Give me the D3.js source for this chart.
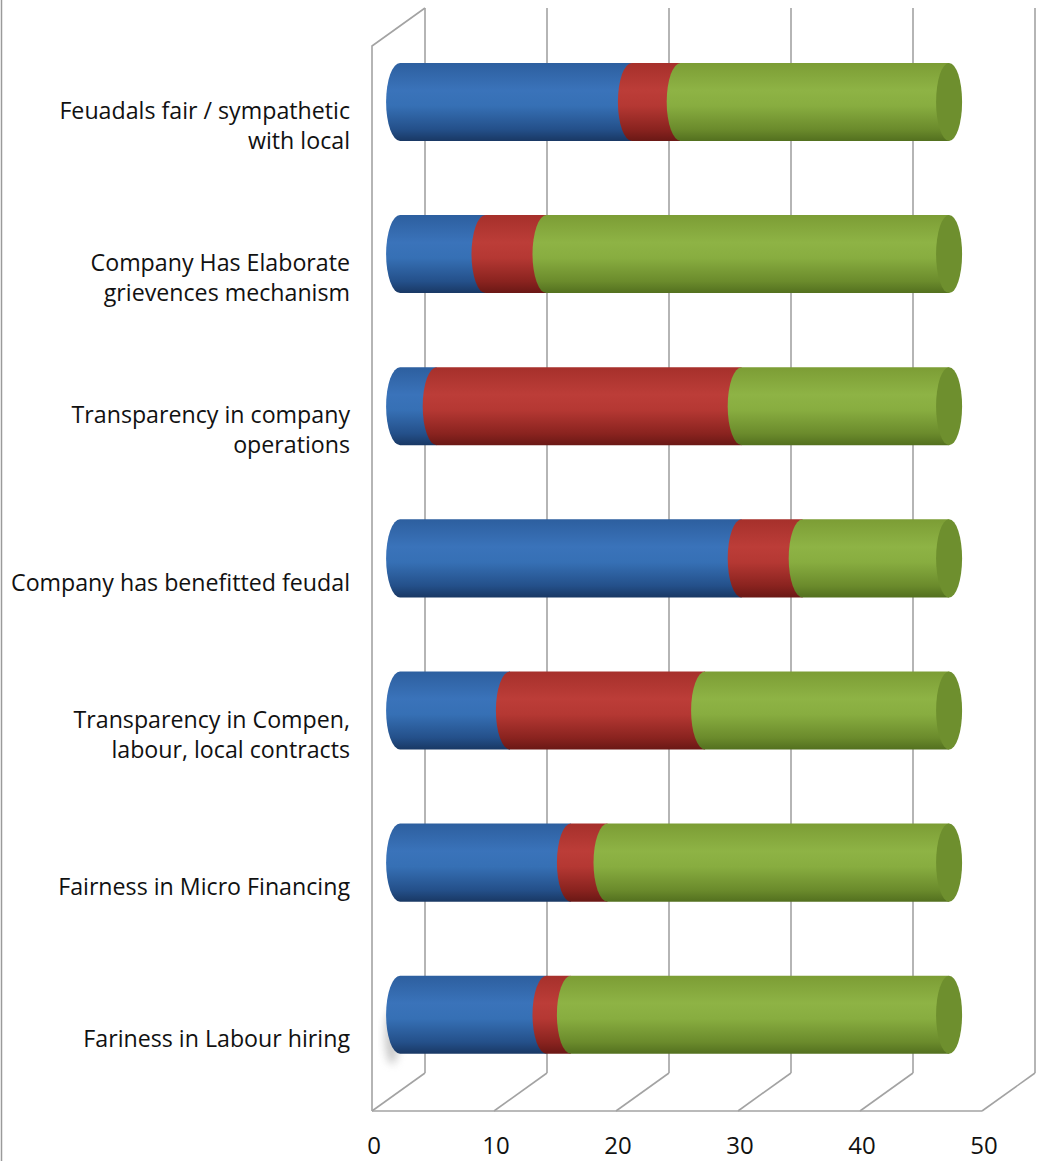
<!DOCTYPE html>
<html>
<head>
<meta charset="utf-8">
<script src="https://cdn.jsdelivr.net/npm/d3@7"></script>
<style>
  html, body { margin: 0; padding: 0; background: #fff; }
  svg { display: block; }
</style>
</head>
<body>
<svg id="chart" width="1062" height="1161"></svg>
<script>
// Categories, top to bottom, split into display lines
const categories = [
  "Feuadals fair / sympathetic with local",
  "Company Has Elaborate grievences mechanism",
  "Transparency in company operations",
  "Company has benefitted feudal",
  "Transparency in Compen, labour, local contracts",
  "Fairness in Micro Financing",
  "Fariness in Labour hiring"
];
const categoryLines = [
  ["Feuadals fair / sympathetic", "with local"],
  ["Company Has Elaborate", "grievences mechanism"],
  ["Transparency in company", "operations"],
  ["Company has benefitted feudal"],
  ["Transparency in Compen,", "labour, local contracts"],
  ["Fairness in Micro Financing"],
  ["Fariness in Labour hiring"]
];

// Stacked series (left to right within each bar)
const series1 = [19, 7, 3, 28, 9, 14, 12];
const series2 = [4, 5, 25, 5, 16, 3, 2];
const series3 = [22, 33, 17, 12, 20, 28, 31];

const tickValues = [0, 10, 20, 30, 40, 50];

const seriesList = [
  { key: "s1", values: series1, stops: ["#2d5f9f", "#3a73ba", "#3670b5", "#24508a", "#193864"] },
  { key: "s2", values: series2, stops: ["#a6302b", "#bc3d38", "#b53833", "#8a231f", "#6a1815"] },
  { key: "s3", values: series3, stops: ["#7c9d35", "#8eb345", "#88ad40", "#6b8b2c", "#53701f"] }
];
const capFill = "#6e8f2e";

const svg = d3.select("#chart");
const defs = svg.append("defs");

// 3D frame geometry: back wall and the offset of the front floor edge
const wallTop = 8, wallBottom = 1073;
const depthX = -53, depthY = 38;
const barDepth = 0.47;

const xBack = d3.scaleLinear().domain([0, 50]).range([425, 1035]);
const xFront = d3.scaleLinear().domain([0, 50]).range([425 + depthX, 1035 + depthX]);
const xBar = d3.scaleLinear().domain([0, 50]).range([425 + depthX * barDepth, 1035 + depthX * barDepth]);

const yBand = d3.scaleBand()
  .domain(categories)
  .range([wallTop, wallBottom])
  .paddingInner(0.487)
  .paddingOuter(0.2435);

const gridColor = "#a3a3a3";

// Outer frame edge on the left
svg.append("line")
  .attr("x1", 1.5).attr("x2", 1.5).attr("y1", 0).attr("y2", 1161)
  .attr("stroke", "#9a9a9a").attr("stroke-width", 1.5);

const grid = svg.append("g").attr("fill", "none").attr("stroke", gridColor).attr("stroke-width", 1.6);

// Back wall vertical gridlines
grid.selectAll("line.back")
  .data(tickValues)
  .join("line")
  .attr("class", "back")
  .attr("x1", d => xBack(d)).attr("x2", d => xBack(d))
  .attr("y1", wallTop).attr("y2", wallBottom);

// Floor gridlines running from back to front
grid.selectAll("line.floor")
  .data(tickValues)
  .join("line")
  .attr("class", "floor")
  .attr("x1", d => xBack(d)).attr("y1", wallBottom)
  .attr("x2", d => xFront(d)).attr("y2", wallBottom + depthY);

// Front floor edge
grid.append("line")
  .attr("x1", xFront(0)).attr("x2", xFront(50))
  .attr("y1", wallBottom + depthY).attr("y2", wallBottom + depthY);

// Side wall: top edge and front vertical edge
grid.append("path")
  .attr("d", `M${xBack(0)},${wallTop} L${xFront(0)},${wallTop + depthY} L${xFront(0)},${wallBottom + depthY}`);

// Gradients for cylinder shading
seriesList.forEach(s => {
  const g = defs.append("linearGradient")
    .attr("id", "grad-" + s.key)
    .attr("x1", 0).attr("x2", 0).attr("y1", 0).attr("y2", 1);
  const offs = [0, 0.35, 0.55, 0.85, 1];
  offs.forEach((o, i) => g.append("stop").attr("offset", o).attr("stop-color", s.stops[i]));
});

// Soft shadow filter
const blur = defs.append("filter").attr("id", "soft").attr("x", "-50%").attr("y", "-50%").attr("width", "200%").attr("height", "200%");
blur.append("feGaussianBlur").attr("stdDeviation", 4);

// Stack the series
const stackData = categories.map((c, i) => {
  const row = { category: c };
  seriesList.forEach(s => row[s.key] = s.values[i]);
  return row;
});
const stacked = d3.stack().keys(seriesList.map(s => s.key))(stackData);

const rx = 14;
const barH = yBand.bandwidth();
const barY = c => yBand(c) + depthY * barDepth;

// Segment outline: body plus a half ellipse bulging left at its start
function segmentPath(x0, x1, yTop) {
  const ry = barH / 2;
  const yBot = yTop + barH;
  return `M${x1},${yTop} L${x0},${yTop} A${rx},${ry} 0 0 0 ${x0},${yBot} L${x1},${yBot} Z`;
}

// Shadow under the lowest bar's left end
const lastCat = categories[categories.length - 1];
svg.append("ellipse")
  .attr("cx", xBar(0) - 8)
  .attr("cy", barY(lastCat) + barH * 0.78)
  .attr("rx", 7).attr("ry", barH * 0.35)
  .attr("fill", "#9a9a9a").attr("opacity", 0.55)
  .attr("filter", "url(#soft)");

const bars = svg.append("g");
categories.forEach((c, i) => {
  const yTop = barY(c);
  const g = bars.append("g");
  stacked.forEach((layer, k) => {
    const d = layer[i];
    if (d[1] - d[0] <= 0) return;
    g.append("path")
      .attr("d", segmentPath(xBar(d[0]), xBar(d[1]), yTop))
      .attr("fill", `url(#grad-${seriesList[k].key})`);
  });
  // Visible end cap at the right
  const total = stacked[stacked.length - 1][i][1];
  g.append("ellipse")
    .attr("cx", xBar(total)).attr("cy", yTop + barH / 2)
    .attr("rx", rx - 1).attr("ry", barH / 2)
    .attr("fill", capFill);
});

// Category labels
const fontFamily = "'Open Sans', Lato, sans-serif";
const labels = svg.append("g")
  .attr("font-family", fontFamily)
  .attr("font-size", 23.2)
  .attr("fill", "#111")
  .attr("text-anchor", "end");
const lineH = 30;
categories.forEach((c, i) => {
  const lines = categoryLines[i];
  const cy = yBand(c) + barH / 2 + depthY + 4;
  const t = labels.append("text").attr("x", 350);
  lines.forEach((ln, j) => {
    t.append("tspan")
      .attr("x", 350)
      .attr("y", cy + (j - (lines.length - 1) / 2) * lineH)
      .attr("dy", "0.35em")
      .text(ln);
  });
});

// Value axis labels along the front floor edge
svg.append("g")
  .attr("font-family", fontFamily)
  .attr("font-size", 24)
  .attr("fill", "#111")
  .attr("text-anchor", "middle")
  .selectAll("text")
  .data(tickValues)
  .join("text")
  .attr("x", d => xFront(d) + 2)
  .attr("y", 1146)
  .attr("dy", "0.35em")
  .text(d => d);
</script>
</body>
</html>
